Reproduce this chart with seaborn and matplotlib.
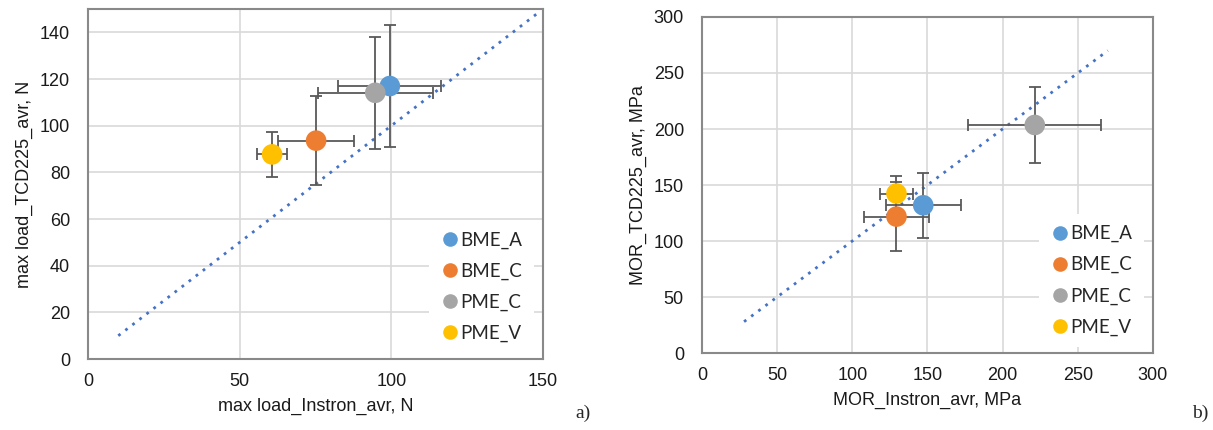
import seaborn as sns
import matplotlib.pyplot as plt
import pandas as pd
import numpy as np

sns.set_style("whitegrid")
plt.rcParams['font.family'] = ['Liberation Sans', 'DejaVu Sans']

groups = ["BME_A", "BME_C", "PME_C", "PME_V"]
colors = ["#5B9BD5", "#ED7D31", "#A5A5A5", "#FFC000"]

# a) max load, N
load_instron = [99.5, 75.2, 94.7, 60.7]
load_instron_err = [17.0, 12.5, 19.0, 5.0]
load_tcd = [117.0, 93.6, 114.1, 87.7]
load_tcd_err = [26.0, 19.0, 24.0, 9.7]
load_line = [10, 149]

# b) MOR, MPa
mor_instron = [147.2, 129.4, 221.4, 129.4]
mor_instron_err = [25.0, 21.7, 44.3, 10.7]
mor_tcd = [131.9, 121.8, 203.6, 142.4]
mor_tcd_err = [29.0, 30.5, 34.0, 15.5]
mor_line = [28, 270]

df_a = pd.DataFrame({"x": load_instron, "y": load_tcd, "xe": load_instron_err,
                     "ye": load_tcd_err, "group": groups})
df_b = pd.DataFrame({"x": mor_instron, "y": mor_tcd, "xe": mor_instron_err,
                     "ye": mor_tcd_err, "group": groups})

fig = plt.figure(figsize=(12.13, 4.30), dpi=100)
ax1 = fig.add_axes([0.0725, 0.165, 0.3752, 0.814])
ax2 = fig.add_axes([0.5787, 0.179, 0.3718, 0.7815])


def draw(ax, df, line, lim, xticks, yticks, xlabel, ylabel):
    ax.plot(line, line, linestyle=(0, (1, 2.2)), color="#4472C4", lw=2.0, zorder=2)
    ax.errorbar(df["x"], df["y"], xerr=df["xe"], yerr=df["ye"], fmt="none",
                ecolor="#595959", elinewidth=1.3, capsize=4.5, capthick=1.3, zorder=3)
    sns.scatterplot(data=df, x="x", y="y", hue="group", palette=colors, s=220,
                    edgecolor="none", ax=ax, zorder=4, legend=True)
    ax.set_xlim(lim)
    ax.set_ylim(lim)
    ax.set_xticks(xticks)
    ax.set_yticks(yticks)
    ax.set_xlabel(xlabel, fontsize=13, color="#1a1a1a", labelpad=6)
    ax.set_ylabel(ylabel, fontsize=13, color="#1a1a1a", labelpad=5)
    ax.tick_params(labelsize=13, colors="#1a1a1a", length=0)
    ax.tick_params(axis="y", pad=13)
    ax.tick_params(axis="x", pad=10)
    ax.grid(True, color="#D9D9D9", lw=1.2)
    for s in ax.spines.values():
        s.set_color("#898989")
        s.set_linewidth(1.5)
    leg = ax.legend(loc="lower right", bbox_to_anchor=(1.0, -0.01), frameon=True,
                    prop={"family": "Lato", "size": 13.5}, handletextpad=0.05,
                    borderpad=0.6, labelspacing=0.74, handlelength=1.0)
    leg.get_frame().set_facecolor("white")
    leg.get_frame().set_edgecolor("none")
    leg.get_frame().set_alpha(1)
    for h in leg.legend_handles:
        h.set_markersize(10.5)


draw(ax1, df_a, load_line, (0, 150), [0, 50, 100, 150], list(range(0, 141, 20)),
     "max load_Instron_avr, N", "max load_TCD225_avr, N")
draw(ax2, df_b, mor_line, (0, 300), list(range(0, 301, 50)), list(range(0, 301, 50)),
     "MOR_Instron_avr, MPa", "MOR_TCD225_avr, MPa")

fig.text(0.474, 0.028, "a)", family="Liberation Serif", fontsize=14)
fig.text(0.983, 0.028, "b)", family="Liberation Serif", fontsize=14)

plt.savefig("out.png", dpi=100)
plt.close()
